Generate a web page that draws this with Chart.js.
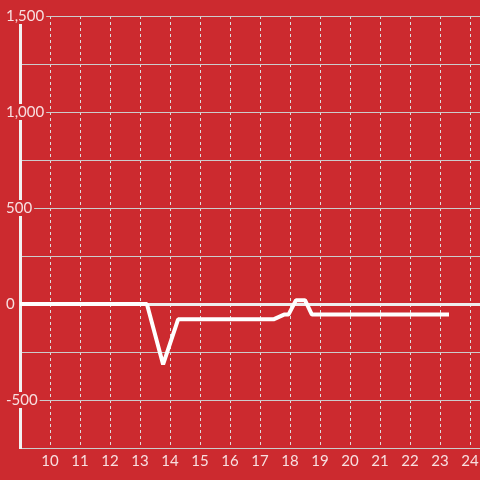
<!DOCTYPE html>
<html>
<head>
<meta charset="utf-8">
<script src="https://cdn.jsdelivr.net/npm/chart.js@4.4.0/dist/chart.umd.min.js"></script>
<style>
  html, body { margin: 0; padding: 0; background: #cc2a2f; }
  #wrap { width: 480px; height: 480px; position: relative; }
</style>
</head>
<body>
<div id="wrap"><canvas id="chart"></canvas></div>
<script>
// hours on the x axis, values on the y axis
const xValues = [9, 13.23, 13.77, 14.27, 17.45, 17.8, 17.95, 18.2, 18.5, 18.73, 23.3];
const yValues = [0, 0, -315, -80, -80, -55, -55, 20, 20, -55, -55];
const xTicks = [10, 11, 12, 13, 14, 15, 16, 17, 18, 19, 20, 21, 22, 23, 24];
const yLabelTicks = [-500, 0, 500, 1000, 1500];

const red = "#cc2a2f";
const labelColor = "rgba(255,255,255,0.85)";

Chart.defaults.font.family = "Lato";
Chart.defaults.font.size = 15;

const points = xValues.map((x, i) => ({ x: x, y: yValues[i] }));

new Chart(document.getElementById("chart"), {
  type: "line",
  data: {
    datasets: [
      {
        data: points,
        borderColor: "#ffffff",
        borderWidth: 4,
        borderJoinStyle: "bevel",
        pointRadius: 0,
        tension: 0,
        fill: false,
      },
    ],
  },
  options: {
    responsive: true,
    maintainAspectRatio: false,
    animation: false,
    layout: { padding: { left: 5, top: 16, right: 0, bottom: 0 } },
    plugins: {
      legend: { display: false },
      tooltip: { enabled: false },
    },
    scales: {
      x: {
        type: "linear",
        min: 9,
        max: 24.333,
        afterBuildTicks: (scale) => {
          scale.ticks = xTicks.map((v) => ({ value: v }));
        },
        afterFit: (scale) => {
          scale.height = 32;
          scale.paddingLeft = 0;
          scale.paddingRight = 0;
        },
        ticks: {
          stepSize: 1,
          includeBounds: false,
          color: labelColor,
          padding: 4,
          maxRotation: 0,
          autoSkip: false,
        },
        grid: {
          color: "#dddddd",
          lineWidth: 1,
          drawTicks: false,
        },
        border: {
          display: true,
          color: "#cccccc",
          width: 1,
          dash: [3, 3],
        },
      },
      y: {
        min: -750,
        max: 1500,
        afterFit: (scale) => {
          scale.width = 15;
          scale.paddingTop = 0;
          scale.paddingBottom = 0;
        },
        ticks: {
          stepSize: 250,
          color: labelColor,
          mirror: true,
          crossAlign: "near",
          padding: -14,
          callback: (v) => (yLabelTicks.includes(v) ? v.toLocaleString("en-US") : ""),
          showLabelBackdrop: (ctx) => yLabelTicks.includes(ctx.tick.value),
          backdropColor: red,
          backdropPadding: { top: -1, bottom: -1, left: 0, right: 2 },
        },
        grid: {
          color: (ctx) => (ctx.tick.value === 0 ? "#eeeeee" : "#cccccc"),
          lineWidth: (ctx) => (ctx.tick.value === 0 ? 3 : 1),
          drawTicks: false,
        },
        border: {
          display: true,
          color: "#f2f2f2",
          width: 3,
        },
      },
    },
  },
});
</script>
</body>
</html>
